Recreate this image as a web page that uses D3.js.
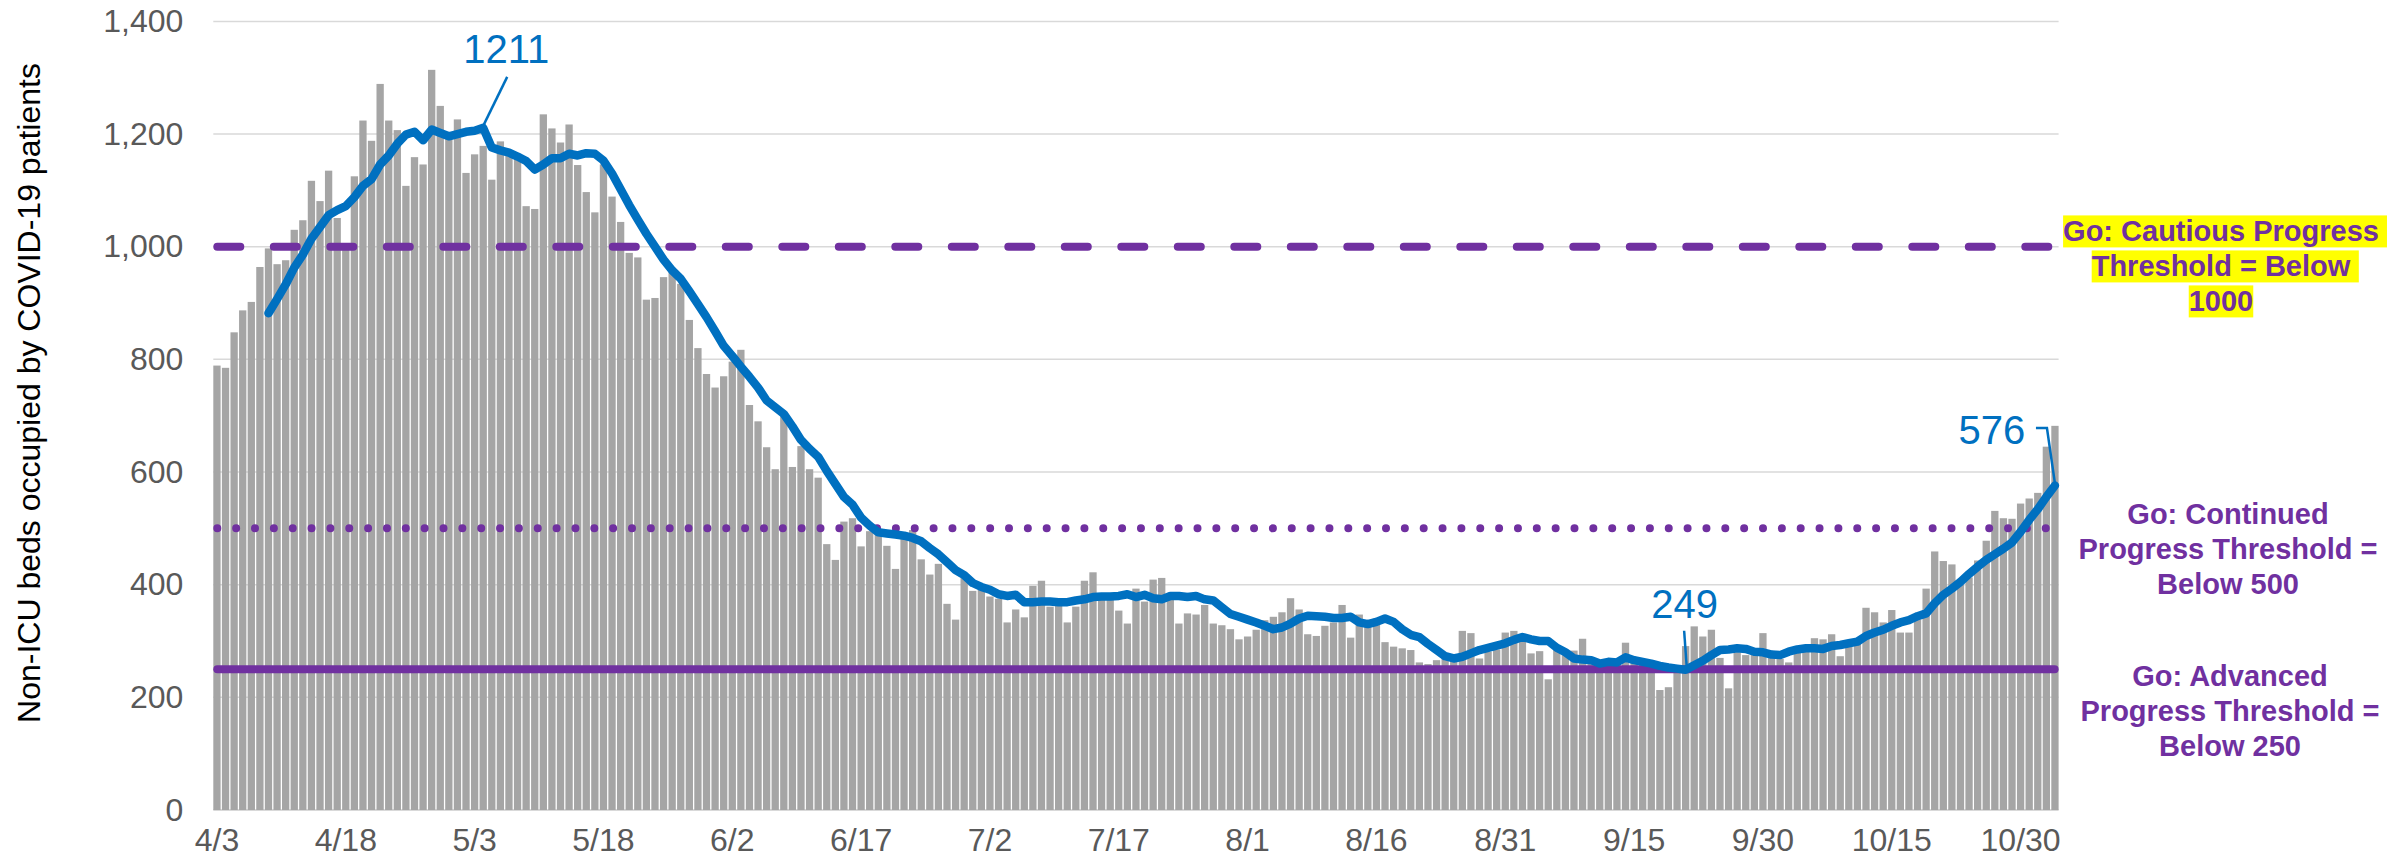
<!DOCTYPE html>
<html>
<head>
<meta charset="utf-8">
<title>Non-ICU beds occupied by COVID-19 patients</title>
<style>
body {
  margin: 0;
  background: #fff;
}

svg {
  display: block;
  font-family: "Liberation Sans", Arial, sans-serif;
}

.grid line {
  stroke: #d9d9d9;
  stroke-width: 1.5px;
}

.grid line.base {
  stroke-width: 2px;
}

.axis path, .axis line {
  display: none;
}

.axis text {
  fill: #595959;
  font-size: 32px;
}

.bar {
  fill: #a5a5a5;
}

.threshold {
  fill: none;
  stroke: #7030a0;
  stroke-width: 8px;
  stroke-linecap: round;
}

.avg {
  fill: none;
  stroke: #0070c0;
  stroke-width: 8.5px;
  stroke-linejoin: round;
  stroke-linecap: round;
}

.callout {
  fill: #0070c0;
  font-size: 40px;
  text-anchor: middle;
}

.leader {
  fill: none;
  stroke: #0070c0;
  stroke-width: 2.5px;
}

.note {
  fill: #7030a0;
  font-size: 29px;
  font-weight: bold;
  text-anchor: middle;
}

.highlight {
  fill: #ffff00;
}
</style>
<script src="https://d3js.org/d3.v7.min.js"></script>
</head>
<body>
<script>
// daily non-ICU beds, 4/3 .. 11/3
const startDate = new Date(2020, 3, 3),
  endDate = new Date(2020, 10, 3);

const tickLabels = ['4/3', '4/18', '5/3', '5/18', '6/2', '6/17', '7/2', '7/17',
  '8/1', '8/16', '8/31', '9/15', '9/30', '10/15', '10/30'];

const yTicks = [0, 200, 400, 600, 800, 1000, 1200, 1400];

const beds = [
  789, 785, 848, 887, 902, 964, 997, 969, 976, 1030, 1047, 1117, 1081, 1135, 1051,
  1003, 1125, 1224, 1188, 1289, 1224, 1207, 1108, 1159, 1146, 1314, 1250, 1193, 1226, 1131,
  1164, 1179, 1119, 1187, 1162, 1165, 1072, 1067, 1235, 1210, 1185, 1217, 1145, 1097, 1061,
  1146, 1089, 1044, 989, 981, 906, 909, 946, 956, 934, 870, 820, 774, 750, 770,
  796, 817, 719, 690, 644, 605, 704, 609, 646, 605, 590, 472, 444, 512, 518,
  468, 495, 491, 469, 428, 481, 497, 445, 418, 437, 366, 338, 412, 389, 391,
  379, 375, 333, 356, 342, 398, 407, 361, 363, 333, 361, 407, 422, 380, 378,
  354, 331, 393, 370, 409, 412, 373, 331, 349, 347, 364, 331, 328, 321, 303,
  308, 320, 337, 343, 351, 376, 356, 312, 309, 327, 333, 364, 306, 347, 333,
  340, 298, 290, 287, 284, 262, 259, 266, 270, 275, 318, 314, 269, 281, 285,
  315, 318, 309, 278, 282, 232, 285, 275, 283, 304, 266, 260, 262, 260, 297,
  270, 265, 260, 213, 218, 250, 291, 326, 308, 320, 270, 216, 280, 275, 285,
  314, 275, 268, 262, 281, 284, 305, 303, 312, 273, 296, 296, 359, 351, 333,
  355, 315, 315, 338, 393, 459, 442, 436, 400, 413, 443, 478, 531, 518, 517,
  544, 553, 563, 645, 682
];

// 7-day average, first value on 4/9
const avgStartDate = new Date(2020, 3, 9);
const avg7 = [
  882, 907, 933, 963, 986, 1014, 1035, 1056, 1065,
  1072, 1088, 1108, 1120, 1146, 1162, 1183, 1199, 1204, 1189, 1208, 1202, 1196, 1200, 1204,
  1206, 1211, 1176, 1171, 1167, 1160, 1152, 1137, 1146, 1157, 1157, 1165, 1162, 1166, 1165,
  1153, 1130, 1102, 1074, 1048, 1023, 1000, 977, 958, 943, 921, 898, 875, 850, 824,
  806, 787, 769, 750, 727, 715, 703, 681, 657, 641, 627, 602, 579, 556, 542,
  519, 505, 493, 491, 489, 487, 483, 477, 465, 454, 440, 426, 417, 403, 396,
  391, 383, 380, 382, 369, 369, 370, 370, 369, 369, 372, 374, 378, 379, 379,
  380, 383, 378, 382, 376, 374, 380, 380, 378, 380, 374, 372, 360, 348, 343,
  338, 333, 327, 321, 324, 331, 340, 345, 344, 343, 341, 341, 343, 333, 330,
  334, 340, 334, 321, 311, 307, 295, 284, 273, 269, 272, 278, 284, 288, 292,
  296, 302, 307, 303, 300, 300, 288, 280, 269, 267, 266, 260, 263, 262, 271,
  266, 263, 260, 256, 253, 251, 249, 257, 265, 275, 284, 285, 287, 286, 281,
  280, 276, 275, 281, 285, 287, 287, 286, 291, 293, 296, 299, 309, 315, 320,
  327, 333, 337, 344, 349, 367, 382, 393, 405, 419, 432, 444, 454, 464, 475,
  494, 515, 534, 556, 576
];

const thresholdValues = [1000, 500, 250];
const thresholdStyles = ['dash', 'dot', 'solid'];
const thresholdNotes = [
  ['Go: Cautious Progress ', 'Threshold = Below ', '1000'],
  ['Go: Continued', 'Progress Threshold =', 'Below 500'],
  ['Go: Advanced', 'Progress Threshold =', 'Below 250']
];

const calloutDates = ['5/4', '9/21', '11/3'];
const calloutValues = [1211, 249, 576];

// layout
const width = 2387,
  height = 865,
  plotLeft = 213.3,
  plotRight = 2058.6,
  plotTop = 21.4,
  plotBottom = 810;

const noteX = [2221, 2228, 2230],
  noteDy = [-5.3, -4.6, 16.8],
  noteLineHeight = 35;

const calloutLayout = [
  {dx: 23, dy: -65, leader: [[24, -51], [0, -2]]},
  {dx: -1, dy: -52, leader: [[-1.5, -39], [1, -4]]},
  {dx: -63, dy: -41.5, leader: [[-19, -57.5], [-8, -57.5], [0, -2]]}
];

const fmt = d3.timeFormat('%-m/%-d');
const days = d3.timeDay.range(startDate, d3.timeDay.offset(endDate, 1)).map(fmt);
const avgDays = d3.timeDay.range(avgStartDate, d3.timeDay.offset(endDate, 1)).map(fmt);

const barData = days.map((d, i) => ({key: d, value: beds[i]}));
const avgData = avgDays.map((d, i) => ({key: d, value: avg7[i]}));

const x = d3.scaleBand()
  .domain(days)
  .range([plotLeft, plotRight])
  .paddingInner(0.15)
  .paddingOuter(0);

const y = d3.scaleLinear()
  .domain([0, 1400])
  .range([plotBottom, plotTop]);

const cx = k => x(k) + x.bandwidth() / 2;

const svg = d3.select('body').append('svg')
  .attr('width', width)
  .attr('height', height);

// gridlines
svg.append('g')
  .attr('class', 'grid')
  .selectAll('line')
  .data(yTicks)
  .enter().append('line')
    .attr('class', d => d === 0 ? 'base' : null)
    .attr('x1', plotLeft)
    .attr('x2', plotRight)
    .attr('y1', d => y(d))
    .attr('y2', d => y(d));

// bars
svg.append('g')
  .selectAll('rect')
  .data(barData)
  .enter().append('rect')
    .attr('class', 'bar')
    .attr('x', d => x(d.key))
    .attr('width', x.bandwidth())
    .attr('y', d => y(d.value))
    .attr('height', d => y(0) - y(d.value));

// threshold lines
svg.append('g')
  .selectAll('line')
  .data(thresholdValues)
  .enter().append('line')
    .attr('class', 'threshold')
    .attr('x1', plotLeft + 4)
    .attr('x2', plotRight - 4)
    .attr('y1', d => y(d))
    .attr('y2', d => y(d))
    .attr('stroke-dasharray', (d, i) => {
      if (thresholdStyles[i] === 'dash') return '23 33.5';
      if (thresholdStyles[i] === 'dot') return '0 18.85';
      return null;
    });

// 7-day average line
const line = d3.line()
  .x(d => cx(d.key))
  .y(d => y(d.value));

svg.append('path')
  .datum(avgData)
  .attr('class', 'avg')
  .attr('d', line);

// callouts
const callouts = svg.append('g')
  .selectAll('g')
  .data(calloutValues)
  .enter().append('g')
    .attr('transform', (d, i) => 'translate(' + cx(calloutDates[i]) + ',' + y(d) + ')');

callouts.append('path')
  .attr('class', 'leader')
  .attr('d', (d, i) => d3.line()(calloutLayout[i].leader));

callouts.append('text')
  .attr('class', 'callout')
  .attr('x', (d, i) => calloutLayout[i].dx)
  .attr('y', (d, i) => calloutLayout[i].dy)
  .text(d => d);

// axes
svg.append('g')
  .attr('class', 'axis')
  .attr('transform', 'translate(' + plotLeft + ',0)')
  .call(d3.axisLeft(y).tickValues(yTicks).tickFormat(d3.format(',')).tickSize(0).tickPadding(30));

svg.append('g')
  .attr('class', 'axis')
  .attr('transform', 'translate(0,' + plotBottom + ')')
  .call(d3.axisBottom(x).tickValues(tickLabels).tickSize(0).tickPadding(18));

svg.append('text')
  .attr('transform', 'translate(40,393) rotate(-90)')
  .attr('text-anchor', 'middle')
  .style('font-size', '32px')
  .style('fill', '#000')
  .text('Non-ICU beds occupied by COVID-19 patients');

// threshold notes
thresholdNotes.forEach((lines, n) => {
  const g = svg.append('g');
  const base = y(thresholdValues[n]) + noteDy[n];
  const texts = g.selectAll('text')
    .data(lines)
    .enter().append('text')
      .attr('class', 'note')
      .attr('x', noteX[n])
      .attr('y', (d, i) => base + i * noteLineHeight)
      .text(d => d.trimEnd());

  // only the first note is highlighted
  if (n === 0) {
    texts.each(function(d) {
      const bb = this.getBBox();
      const extra = d.endsWith(' ') ? 29 * 0.278 : 0;
      g.insert('rect', 'text')
        .attr('class', 'highlight')
        .attr('x', bb.x)
        .attr('y', bb.y)
        .attr('width', bb.width + extra)
        .attr('height', bb.height);
    });
  }
});
</script>
</body>
</html>
